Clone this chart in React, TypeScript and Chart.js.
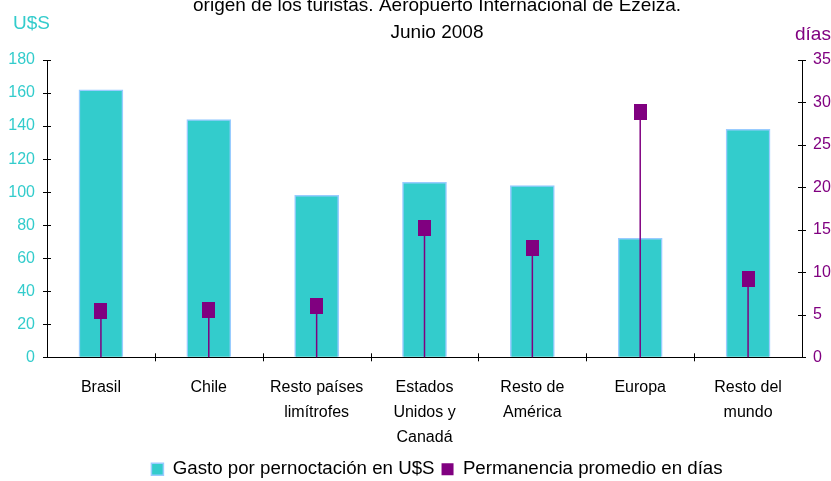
import React, { useEffect, useRef } from "react";
import { Chart, registerables } from "chart.js";

Chart.register(...registerables);

const categories: (string | string[])[] = [
  "Brasil",
  "Chile",
  ["Resto países", "limítrofes"],
  ["Estados", "Unidos y", "Canadá"],
  ["Resto de", "América"],
  "Europa",
  ["Resto del", "mundo"],
];
const gastoUSS = [162, 144, 98, 106, 104, 72, 138];
const permanenciaDias = [5.4, 5.6, 6.0, 15.2, 12.9, 28.9, 9.2];

const titleLines = ["origen de los turistas. Aeropuerto Internacional de Ezeiza.", "Junio 2008"];
const leftUnit = "U$S";
const rightUnit = "días";
const seriesNames = ["Gasto por pernoctación en U$S", "Permanencia promedio en días"];

const FONT = "'Liberation Sans', Arial, sans-serif";
const TURQ = "#33CCCC";
const PURPLE = "#800080";
const CENTER_X = 437;

export default function App() {
  const ref = useRef<HTMLCanvasElement | null>(null);

  useEffect(() => {
    if (!ref.current) return;
    const marker = document.createElement("canvas");
    marker.width = 13;
    marker.height = 16;
    const mctx = marker.getContext("2d")!;
    mctx.fillStyle = PURPLE;
    mctx.fillRect(0, 0, 13, 16);

    const dropLines = {
      id: "dropLines",
      beforeDatasetDraw(chart: any, args: any) {
        if (args.index !== 1) return;
        const meta = chart.getDatasetMeta(1);
        const y0 = chart.scales.y1.getPixelForValue(0);
        const ctx = chart.ctx;
        ctx.save();
        ctx.strokeStyle = PURPLE;
        ctx.lineWidth = 1.5;
        meta.data.forEach((p: any) => {
          ctx.beginPath();
          ctx.moveTo(p.x, p.y);
          ctx.lineTo(p.x, y0);
          ctx.stroke();
        });
        ctx.restore();
      },
    };

    const crossTicks = {
      id: "crossTicks",
      afterDraw(chart: any) {
        const ctx = chart.ctx;
        const { x, y, y1 } = chart.scales;
        ctx.save();
        ctx.strokeStyle = "#000";
        ctx.lineWidth = 1;
        y.ticks.forEach((t: any) => {
          const py = Math.round(y.getPixelForValue(t.value)) + 0.5;
          ctx.beginPath();
          ctx.moveTo(y.right - 4, py);
          ctx.lineTo(y.right + 4, py);
          ctx.stroke();
        });
        y1.ticks.forEach((t: any) => {
          const py = Math.round(y1.getPixelForValue(t.value)) + 0.5;
          ctx.beginPath();
          ctx.moveTo(y1.left - 4, py);
          ctx.lineTo(y1.left + 4, py);
          ctx.stroke();
        });
        const half = (x.getPixelForValue(1) - x.getPixelForValue(0)) / 2;
        for (let i = 1; i < categories.length; i++) {
          const px = Math.round(x.getPixelForValue(i) - half) + 0.5;
          ctx.beginPath();
          ctx.moveTo(px, x.top - 4);
          ctx.lineTo(px, x.top + 4);
          ctx.stroke();
        }
        ctx.restore();
      },
    };

    const legendShift = {
      id: "legendShift",
      afterLayout(chart: any) {
        const lg = chart.legend;
        if (!lg) return;
        const dx = CENTER_X - (lg.left + lg.right) / 2;
        const dy = 7.5;
        lg.left += dx;
        lg.right += dx;
        lg.top += dy;
        lg.bottom += dy;
      },
    };

    const texts = {
      id: "texts",
      afterDraw(chart: any) {
        const ctx = chart.ctx;
        ctx.save();
        ctx.textBaseline = "alphabetic";
        ctx.textAlign = "center";
        ctx.fillStyle = "#000";
        ctx.font = `19px ${FONT}`;
        ctx.fillText(titleLines[0], CENTER_X, 11);
        ctx.fillText(titleLines[1], CENTER_X, 38);
        ctx.textAlign = "left";
        ctx.font = `19px ${FONT}`;
        ctx.fillStyle = TURQ;
        ctx.fillText(leftUnit, 13, 29);
        ctx.fillStyle = PURPLE;
        ctx.fillText(rightUnit, 795, 40);
        ctx.restore();
      },
    };

    const chart = new Chart(ref.current, {
      data: {
        labels: categories,
        datasets: [
          {
            type: "bar",
            label: seriesNames[0],
            data: gastoUSS,
            backgroundColor: TURQ,
            borderColor: "#99CCFF",
            borderWidth: 1.5,
            barThickness: 44,
            yAxisID: "y",
            order: 1,
          },
          {
            type: "line",
            label: seriesNames[1],
            data: permanenciaDias,
            yAxisID: "y1",
            showLine: false,
            backgroundColor: PURPLE,
            borderColor: PURPLE,
            borderWidth: 0,
            pointStyle: marker as any,
            pointRadius: 8,
            pointHoverRadius: 8,
            order: 0,
          },
        ] as any,
      },
      options: {
        responsive: false,
        animation: false,
        devicePixelRatio: 1,
        events: [],
        layout: { padding: { left: 0, top: 60, right: 0, bottom: 0 } },
        plugins: {
          title: { display: false },
          tooltip: { enabled: false },
          legend: {
            position: "bottom",
            labels: {
              boxWidth: 12,
              boxHeight: 12,
              padding: 7,
              color: "#000",
              font: { family: FONT, size: 18.7 },
              sort: (a: any, b: any) => a.datasetIndex - b.datasetIndex,
            },
          },
        },
        scales: {
          x: {
            grid: { drawOnChartArea: false, drawTicks: false },
            border: { display: true, color: "#000", width: 1 },
            ticks: {
              color: "#000",
              font: { family: FONT, size: 16, lineHeight: 1.56 },
              padding: 18,
              autoSkip: false,
              maxRotation: 0,
              minRotation: 0,
            },
            afterFit: (s: any) => {
              s.height = 88;
            },
          },
          y: {
            position: "left",
            min: 0,
            max: 180,
            grid: { drawOnChartArea: false, drawTicks: false },
            border: { display: true, color: "#000", width: 1 },
            ticks: {
              stepSize: 20,
              color: TURQ,
              font: { family: FONT, size: 16 },
              padding: 12,
            },
            afterFit: (s: any) => {
              s.width = 47;
            },
          },
          y1: {
            position: "right",
            min: 0,
            max: 35,
            grid: { drawOnChartArea: false, drawTicks: false },
            border: { display: true, color: "#000", width: 1 },
            ticks: {
              stepSize: 5,
              color: PURPLE,
              font: { family: FONT, size: 16 },
              padding: 11,
            },
            afterFit: (s: any) => {
              s.width = 29;
            },
          },
        },
      } as any,
      plugins: [dropLines, crossTicks, legendShift, texts],
    });
    return () => chart.destroy();
  }, []);

  return (
    <div style={{ position: "fixed", left: 0, top: 0, width: 831, height: 481, background: "#fff" }}>
      <canvas ref={ref} width={831} height={481} />
    </div>
  );
}
